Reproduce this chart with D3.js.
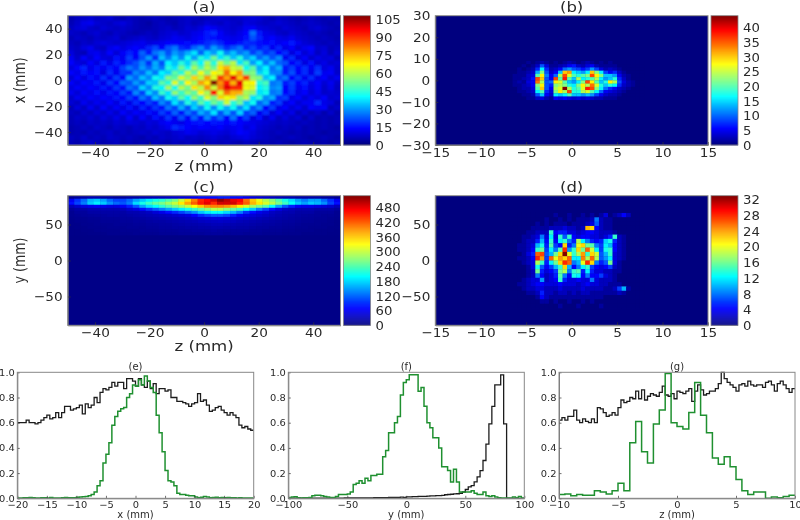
<!DOCTYPE html>
<html><head><meta charset="utf-8">
<script src="https://cdn.jsdelivr.net/npm/d3@7"></script>
<style>html,body{margin:0;padding:0;background:#fff}svg{display:block;filter:blur(.35px)}text{font-family:"DejaVu Sans",sans-serif;fill:#2a2a2a}</style>
</head><body><svg id="c" width="800" height="520"></svg>
<script>
// Panel (a): rows run from x=+50 (top) to x=-50 (bottom), columns z=-50..50
const gridA=[
[5,7,8,9,7,8,9,6,5,7,6,5,6,7,6,5,6,7,8,7,6,7,8,9,8,7,8,9,10,9,7,6,8,7,6,5,6,7,6,5,6,5],
[6,8,11,12,9,8,7,9,10,8,6,5,4,6,7,6,5,7,8,6,7,9,8,7,9,8,7,10,9,8,7,8,9,8,7,6,7,8,7,6,5,6],
[7,9,10,8,7,9,8,7,8,7,6,5,5,6,7,8,6,7,9,8,10,14,12,10,9,8,9,12,13,10,9,8,7,9,8,7,6,8,9,7,6,5],
[8,7,6,8,9,7,6,8,7,6,5,6,7,6,8,9,10,8,9,11,12,16,18,13,10,9,11,14,25,16,11,10,8,7,9,8,7,6,7,6,5,6],
[6,8,7,6,8,7,8,9,6,7,8,9,8,7,9,10,12,11,10,12,14,16,15,13,12,11,12,15,22,17,12,14,11,10,12,9,8,7,6,7,6,5],
[7,6,8,7,9,10,9,8,9,10,11,12,10,11,12,14,13,14,15,14,15,18,20,17,14,13,15,18,17,15,14,15,12,14,16,12,9,8,7,6,7,6],
[8,7,10,12,8,7,11,13,10,12,14,12,17,21,14,22,26,18,16,24,28,20,30,24,18,22,26,17,21,16,19,12,17,11,14,9,12,14,8,9,6,7],
[10,7,6,11,12,9,14,9,13,17,14,24,16,26,30,22,30,26,32,38,24,36,30,42,28,34,26,30,20,26,18,22,14,18,10,15,9,12,7,10,6,9],
[12,8,13,9,14,10,9,15,12,20,13,22,30,18,34,26,36,28,42,30,44,38,52,38,46,34,44,30,36,24,30,22,28,12,18,10,13,8,11,9,10,6],
[14,10,9,14,10,16,11,17,13,18,22,28,18,32,22,40,34,44,36,50,40,58,44,62,52,60,38,48,30,40,26,34,24,22,13,17,10,15,9,11,8,9],
[10,14,17,11,15,12,16,13,20,26,22,30,24,32,26,44,38,52,42,58,48,60,52,70,76,62,60,42,50,32,40,26,32,16,20,14,18,12,18,10,12,8],
[14,11,16,13,15,10,18,12,19,18,28,24,34,26,40,36,50,44,60,50,66,54,68,64,84,68,78,52,54,36,42,28,28,16,22,13,18,11,20,12,13,8],
[9,14,10,15,12,18,12,20,14,30,24,34,28,42,38,54,50,64,56,72,60,78,64,90,78,98,74,90,56,54,34,40,22,26,14,19,12,18,11,14,9,12],
[13,10,14,12,16,11,19,14,24,22,30,24,36,34,50,44,64,48,68,58,78,70,108,80,94,76,98,66,68,44,48,26,28,16,20,14,17,11,14,9,12,8],
[10,13,11,14,12,16,12,19,15,26,22,36,28,44,40,58,42,60,52,70,60,80,62,82,98,92,92,66,64,40,44,28,30,14,19,12,15,10,13,8,11,7],
[12,9,13,11,15,11,16,13,20,15,28,20,36,28,46,38,56,46,56,50,68,58,96,64,84,76,76,58,56,38,42,26,28,14,18,11,14,9,12,8,9,8],
[8,12,10,13,11,14,12,16,13,20,15,26,20,34,26,42,36,50,40,56,46,64,54,72,66,70,54,60,38,44,28,32,18,20,11,14,9,12,10,13,8,9],
[9,7,12,9,12,10,14,10,16,11,18,14,20,16,28,22,38,28,44,34,50,42,52,46,62,44,52,34,42,24,30,16,20,11,14,9,12,12,18,11,10,6],
[6,10,7,12,8,13,9,13,10,15,10,17,12,19,15,26,20,32,22,36,28,42,28,42,32,42,28,38,22,28,14,20,11,14,9,12,8,14,12,13,6,8],
[7,6,9,7,10,8,11,8,13,10,13,11,15,12,20,15,24,15,26,20,32,26,38,22,32,22,36,20,24,12,18,9,13,8,11,6,9,6,8,5,8,5],
[6,8,7,9,7,10,8,11,8,13,8,14,9,15,11,19,12,22,13,24,15,28,18,24,14,26,14,20,10,15,8,12,7,10,7,9,5,8,5,6,5,6],
[6,7,6,8,7,8,7,9,8,10,9,8,10,9,12,14,12,11,14,15,16,14,16,15,14,16,14,12,11,10,9,8,7,8,7,6,7,6,5,6,5,6],
[5,6,7,6,8,7,6,8,7,6,8,7,9,8,10,12,18,16,14,12,14,13,12,14,11,12,13,10,12,9,8,7,6,7,6,7,5,6,5,6,5,4],
[5,6,5,7,6,7,8,6,7,6,7,8,7,9,8,7,9,10,12,11,9,10,11,10,9,11,14,12,10,8,7,6,7,6,5,6,5,6,5,4,5,5],
[7,6,8,6,7,6,8,7,6,7,6,5,7,6,8,7,8,9,7,8,7,8,9,8,7,9,10,11,9,8,7,6,5,6,7,6,5,4,5,6,5,4],
[6,5,7,8,6,5,6,7,5,6,5,6,5,7,6,5,7,6,7,6,5,6,7,6,7,6,5,7,6,5,6,5,6,5,4,5,6,5,4,5,4,5]];
// Panel (b): central region only, y=+9 (top) to y=-9, z=-7..8
const gridB=[
[0,0,0,0,1,0,1,2,1,0,1,0,1,2,1,0,1,2,1,0,1,0,1,0,0,0,0,0,0,0],
[0,0,0,1,0,1,3,9,4,1,1,2,3,5,6,3,2,4,5,2,1,1,1,1,0,0,0,0,0,0],
[0,0,1,0,1,2,7,16,7,2,3,5,10,12,9,8,6,8,12,8,4,2,3,2,1,0,0,0,0,0],
[0,0,1,1,2,3,13,22,9,3,5,14,30,32,16,14,12,16,30,22,16,8,5,7,3,1,0,0,0,0],
[0,1,1,1,3,4,20,28,11,5,10,24,36,26,20,18,20,22,36,28,22,14,14,12,5,2,1,0,0,0],
[0,1,1,2,3,6,36,30,9,5,36,20,38,20,14,24,16,18,20,24,16,12,14,18,7,3,1,0,0,0],
[0,1,2,1,4,5,34,24,9,10,28,26,20,14,12,16,22,36,28,20,14,18,28,24,9,4,2,1,0,0],
[0,1,1,2,3,5,22,28,9,7,22,24,22,18,16,22,28,24,34,26,18,14,18,16,7,3,2,1,0,0],
[0,0,1,2,2,4,20,30,9,5,24,26,44,24,18,20,26,38,36,22,16,10,7,5,3,2,1,0,0,0],
[0,0,1,1,2,3,16,20,7,4,22,28,24,36,18,18,24,26,20,16,10,5,4,3,2,1,0,0,0,0],
[0,0,0,1,1,2,9,14,5,3,16,14,16,20,14,14,12,14,12,8,5,3,2,2,1,0,0,0,0,0],
[0,0,0,0,1,1,3,4,2,1,5,4,5,4,3,4,3,4,3,2,2,1,1,1,0,0,0,0,0,0]];
// Panel (c): rows from y=+90 downward, columns z=-50..50
const gridC=[
[10,15,20,25,25,20,20,15,15,20,20,25,25,30,30,35,40,45,50,60,70,70,75,80,80,75,70,60,50,45,40,35,30,25,25,20,20,20,20,15,15,10],
[60,90,120,160,170,150,120,100,100,120,150,170,190,210,220,240,260,300,350,400,450,470,490,520,500,480,470,410,360,320,290,270,240,210,180,150,130,150,150,120,90,60],
[70,100,130,170,190,170,140,120,110,130,180,210,230,250,260,280,300,340,380,420,460,480,450,490,490,490,460,420,370,340,310,290,260,230,200,170,150,170,160,140,100,70],
[30,40,50,55,60,55,50,50,60,80,110,150,180,200,220,240,260,280,300,330,360,390,400,400,390,370,340,310,280,260,240,200,150,110,80,60,55,55,50,45,40,30],
[15,20,20,25,25,25,25,25,30,40,50,70,90,110,130,150,170,190,210,230,250,270,290,290,270,250,230,200,170,130,100,70,50,35,30,25,25,25,20,20,20,15],
[10,15,15,20,20,20,20,20,20,25,25,30,35,45,55,70,85,100,120,140,170,190,200,200,180,160,130,90,70,55,45,35,30,25,25,20,20,20,15,15,15,10],
[10,12,14,15,16,16,18,18,18,20,22,25,28,30,32,35,40,45,50,65,85,100,110,110,100,80,60,50,45,40,35,30,25,22,20,18,16,15,14,12,12,10],
[8,10,10,12,12,14,14,14,16,16,18,20,22,24,26,28,30,32,36,40,44,48,50,50,46,44,40,36,34,30,26,24,22,20,18,16,14,14,12,12,10,8],
[6,8,8,10,10,12,12,12,14,14,16,16,18,20,20,22,24,26,28,30,34,36,36,38,36,34,30,28,26,24,22,20,18,16,16,14,12,12,10,10,8,6],
[6,6,8,8,10,10,10,12,12,12,14,14,16,16,18,18,20,22,24,24,26,28,30,30,28,26,24,24,22,20,18,18,16,14,14,12,10,10,10,8,8,6],
[5,6,6,8,8,8,10,10,10,12,12,12,14,14,16,16,18,18,20,20,22,22,24,24,22,22,20,20,18,16,16,14,14,12,12,10,10,8,8,8,6,6],
[5,5,6,6,8,8,8,8,10,10,10,12,12,12,14,14,14,16,16,18,18,18,20,18,18,16,16,16,14,14,12,12,12,10,10,8,8,8,6,6,6,5],
[5,5,5,6,6,6,8,8,8,8,10,10,10,10,12,12,12,14,14,14,14,16,16,16,14,14,14,12,12,12,10,10,10,8,8,8,6,6,6,6,5,5]];
// Panel (d): central region only, y=+66 (top) to y=-66, z=-7..8
const gridD=[
[0,0,0,0,0,0,0,0,0,0,1,0,0,1,0,0,1,0,1,0,1,3,0,1,2,4,2,0,0,0],
[0,0,0,0,0,0,0,0,1,0,0,1,0,1,0,1,1,1,2,8,2,1,1,0,0,0,0,0,0,0],
[0,0,0,0,0,0,1,0,1,0,1,1,1,0,1,1,1,2,3,7,2,1,1,0,0,0,0,0,0,0],
[0,0,0,0,0,1,1,1,1,2,2,2,3,2,2,1,2,23,22,4,2,1,1,0,0,0,0,0,0,0],
[0,0,0,0,1,1,2,2,2,14,4,5,5,3,3,2,3,4,4,3,2,2,2,1,0,0,0,0,0,0],
[0,0,0,1,1,2,3,8,3,12,3,14,7,14,4,3,4,4,3,3,2,3,5,14,2,1,0,0,0,0],
[0,0,0,1,2,2,5,10,4,14,4,12,14,8,5,18,12,8,5,4,5,11,13,5,2,1,0,0,0,0],
[0,0,1,1,2,3,10,13,5,15,6,4,22,5,8,20,22,16,15,8,6,12,10,4,2,1,0,0,0,0],
[0,0,1,1,2,4,14,16,6,12,8,15,28,9,14,22,16,26,19,12,6,13,14,4,2,1,0,0,0,0],
[0,0,0,1,3,5,26,27,7,10,16,22,33,20,14,18,24,14,22,19,7,10,14,3,2,1,0,0,0,0],
[0,0,1,1,2,4,28,24,6,26,20,24,22,26,12,12,25,18,26,18,7,9,12,3,2,1,0,0,0,0],
[0,0,0,1,2,3,18,14,5,12,16,22,28,26,8,10,20,28,22,8,5,7,16,3,1,0,0,0,0,0],
[0,0,0,0,1,3,13,7,4,6,10,14,22,10,4,8,12,14,6,4,3,4,6,2,1,0,0,0,0,0],
[0,0,0,0,1,2,16,5,3,4,6,16,18,8,14,15,5,12,5,3,3,2,2,1,1,0,0,0,0,0],
[0,0,0,0,1,2,8,4,2,3,5,15,8,4,13,12,4,8,4,4,6,3,2,1,0,0,0,0,0,0],
[0,0,0,1,2,3,3,9,2,3,4,14,5,3,3,4,3,3,8,3,2,2,2,1,0,0,0,0,0,0],
[0,0,1,1,2,3,4,4,3,3,3,4,3,3,3,2,3,4,3,3,2,2,1,1,1,0,0,0,0,0],
[0,0,0,1,2,2,3,3,2,2,2,3,2,2,2,2,3,2,2,2,2,1,1,2,6,10,1,0,0,0],
[0,0,0,0,1,1,2,5,2,2,1,2,2,1,2,1,2,2,1,1,1,1,1,1,2,1,0,0,0,0],
[0,0,0,0,0,0,1,4,2,1,1,1,1,1,1,1,1,1,1,1,1,0,0,0,0,0,0,0,0,0],
[0,0,0,0,0,0,0,1,1,0,1,0,0,1,0,0,1,0,1,0,0,0,0,0,0,0,0,0,0,0],
[0,0,0,0,0,0,0,0,0,0,0,1,0,0,0,1,0,0,0,0,1,0,0,0,0,0,0,0,0,0]];
// Normalised histograms (bin values, left to right)
const eBlack=[.60,.60,.60,.62,.60,.60,.59,.60,.62,.64,.66,.63,.64,.68,.64,.68,.73,.73,.70,.71,.72,.74,.67,.75,.72,.74,.80,.76,.84,.87,.86,.88,.92,.89,.92,.92,.87,.95,.95,.93,.89,.95,.90,.88,.93,.87,.91,.83,.87,.87,.85,.86,.80,.80,.77,.77,.76,.75,.73,.75,.76,.83,.77,.78,.74,.69,.70,.72,.73,.70,.68,.66,.68,.66,.64,.58,.56,.57,.55,.54];
const eGreen=[.002,.003,.004,.005,.006,.004,.003,.002,.005,.004,.003,.006,.003,.002,.003,.004,.006,.005,.004,.005,.008,.01,.012,.015,.02,.03,.05,.10,.14,.28,.35,.44,.58,.65,.69,.71,.72,.80,.83,.90,.89,.94,.90,.97,.93,.88,.84,.66,.52,.37,.22,.14,.13,.10,.04,.03,.03,.025,.02,.02,.01,.005,.008,.015,.01,.005,.006,.008,.004,.007,.005,.006,.004,.005,.003,.004,.003,.002,.003,.002];
const fBlack=[.001,.001,.001,.001,.001,.001,.001,.001,.002,.002,.002,.002,.002,.002,.002,.002,.002,.002,.002,.003,.003,.003,.003,.003,.003,.004,.004,.004,.004,.005,.005,.005,.006,.006,.007,.008,.008,.008,.01,.008,.012,.012,.014,.014,.015,.016,.016,.018,.02,.02,.022,.022,.024,.028,.03,.032,.035,.036,.04,.05,.07,.09,.10,.13,.17,.22,.30,.43,.59,.73,.90,.90,.98,.59,0,0,0,0,0,0];
const fGreen=[.003,.01,.012,.005,.003,.004,.005,.006,.02,.025,.025,.02,.015,.01,.006,.006,.015,.03,.03,.03,.035,.05,.11,.12,.14,.12,.16,.14,.18,.18,.19,.19,.33,.38,.52,.52,.60,.65,.82,.92,.94,.98,.98,.98,.85,.88,.73,.60,.56,.48,.48,.40,.25,.25,.22,.13,.23,.13,.05,.05,.05,.05,.06,.04,.03,.03,.05,.02,.015,.02,.01,.005,.003,.003,.002,.002,.01,.005,.015,.002];
const gBlack=[.62,.64,.62,.65,.65,.70,.62,.60,.63,.61,.60,.63,.60,.72,.71,.68,.65,.66,.68,.66,.72,.78,.76,.77,.80,.79,.85,.79,.86,.78,.81,.83,.82,.81,.84,.89,.82,.81,.83,.79,.85,.84,.83,.85,.87,.77,.85,.90,.86,.82,.83,.85,.85,.87,.91,1.0,.95,.92,.90,.88,.85,.90,.91,.89,.93,.90,.89,.90,.90,.88,.92,.93,.90,.85,.91,.93,.90,.87,.84,.87];
const gGreen=[.03,.035,.02,.03,.025,.025,.06,.05,.035,.06,.12,.06,.44,.61,.37,.28,.59,.70,.99,.60,.57,.55,.68,.92,.66,.52,.32,.27,.33,.25,.15,.06,.03,.05,.05,.0,.01,.005,.015,.025];
// Tick labels
const ticksZA=[-40,-20,0,20,40], ticksX=[-40,-20,0,20,40], ticksY=[-50,0,50];
const ticksZB=[-15,-10,-5,0,5,10,15], ticksB=[-30,-20,-10,0,10,20,30];
const ticksCbA=d3.range(0,106,15), ticksCbB=d3.range(0,41,5), ticksCbC=d3.range(0,481,60), ticksCbD=d3.range(0,33,4);
const ticksFrac=[0,.2,.4,.6,.8,1];

const svg=d3.select("#c");
const defs=svg.append("defs");
const blur=(id,s)=>defs.append("filter").attr("id",id).attr("x","-5%").attr("y","-5%").attr("width","110%").attr("height","110%")
  .append("feGaussianBlur").attr("stdDeviation",s);
blur("bA",1); blur("bB",.75); blur("bC",.7); blur("bD",.7);
const jet=d3.scaleLinear().domain([0,.11,.125,.375,.625,.89,1])
  .range(["#00007f","#0000f0","#0000ff","#00ffff","#ffff00","#ff0000","#7f0000"]).clamp(true);

function stretch(sel,f){sel.each(function(){const n=this.getComputedTextLength();this.setAttribute("textLength",n*f);this.setAttribute("lengthAdjust","spacingAndGlyphs");});}
let clipN=0;
function label(x,y,s,size,f,rot){const t=svg.append("text").attr("text-anchor","middle").attr("font-size",size).text(s);
  if(rot)t.attr("transform",`translate(${x},${y}) rotate(-90)`);else t.attr("x",x).attr("y",y);stretch(t,f);}
function styleAxis(g,size,f,col){g.selectAll("path.domain").attr("stroke",col||"#777").attr("stroke-width",1);
  g.selectAll("line").attr("stroke","#333").attr("stroke-width",.7);
  const t=g.selectAll("text").attr("font-size",size).attr("fill","#2a2a2a").attr("font-family",'"DejaVu Sans",sans-serif');stretch(t,f);}

function heat(o){
  const xs=d3.scaleLinear().domain(o.xd).range([o.x0,o.x1]), ys=d3.scaleLinear().domain(o.yd).range([o.y1,o.y0]);
  const id="clip"+(clipN++);
  defs.append("clipPath").attr("id",id).append("rect").attr("x",o.x0).attr("y",o.y0).attr("width",o.x1-o.x0).attr("height",o.y1-o.y0);
  const norm=v=>jet(v/o.vmax);
  const g=svg.append("g").attr("clip-path",`url(#${id})`);
  g.append("rect").attr("x",o.x0).attr("y",o.y0).attr("width",o.x1-o.x0).attr("height",o.y1-o.y0).attr("fill",norm(o.bg));
  const cells=o.grid.flatMap((row,r)=>row.map((v,c)=>({v,c,r})));
  g.append("g").attr("filter",`url(#${o.f})`).selectAll("rect").data(cells).join("rect")
    .attr("x",d=>xs(o.gx+d.c*o.gdx)).attr("width",d=>xs(o.gx+(d.c+1)*o.gdx)-xs(o.gx+d.c*o.gdx)+.3)
    .attr("y",d=>ys(o.gy-d.r*o.gdy)).attr("height",d=>ys(o.gy-(d.r+1)*o.gdy)-ys(o.gy-d.r*o.gdy)+.3)
    .attr("fill",d=>norm(d.v));
  const ax=svg.append("g").attr("transform",`translate(0,${o.y1})`).call(d3.axisBottom(xs).tickValues(o.tx).tickSizeInner(-3).tickSizeOuter(0).tickPadding(2.5));
  const ay=svg.append("g").attr("transform",`translate(${o.x0},0)`).call(d3.axisLeft(ys).tickValues(o.ty).tickSizeInner(-3).tickSizeOuter(0).tickPadding(5));
  styleAxis(ax,13,1.05);styleAxis(ay,13,1.05);
  svg.append("rect").attr("x",o.x0).attr("y",o.y0).attr("width",o.x1-o.x0).attr("height",o.y1-o.y0).attr("fill","none").attr("stroke","#888").attr("stroke-width",1);
  // colour bar
  const cb=d3.scaleLinear().domain([0,o.vmax]).range([o.y1,o.y0]);
  svg.append("g").selectAll("rect").data(d3.range(0,1,1/128)).join("rect")
    .attr("x",o.cx).attr("width",o.cw).attr("y",d=>cb((d+1/128)*o.vmax)).attr("height",(o.y1-o.y0)/128+.4).attr("fill",d=>jet(d));
  const ac=svg.append("g").attr("transform",`translate(${o.cx+o.cw},0)`).call(d3.axisRight(cb).tickValues(o.tc).tickSize(0).tickPadding(5));
  ac.select("path.domain").remove();styleAxis(ac,13,1.02);
  svg.append("rect").attr("x",o.cx).attr("y",o.y0).attr("width",o.cw).attr("height",o.y1-o.y0).attr("fill","none").attr("stroke","#888").attr("stroke-width",.8);
  label((o.x0+o.x1)/2,o.y0-3.5,o.title,13.5,1.22);
  if(o.xl)label((o.x0+o.x1)/2,o.xly,o.xl,13.5,1.23);
  if(o.yl)label(25,(o.y0+o.y1)/2,o.yl,15,.84,true);
}
const rowTop={y0:15.7,y1:145},rowMid={y0:195.7,y1:325.3},colL={x0:67.7,x1:340.5,cx:343.5,cw:27},colR={x0:435.3,x1:708,cx:711,cw:27};
heat({...colL,...rowTop,xd:[-50,50],yd:[-50,50],grid:gridA,gx:-50,gdx:100/42,gy:50,gdy:100/26,vmax:108,bg:6,f:"bA",tx:ticksZA,ty:ticksX,tc:ticksCbA,title:"(a)",xl:"z (mm)",xly:171,yl:"x (mm)"});
heat({...colR,...rowTop,xd:[-15,15],yd:[-30,30],grid:gridB,gx:-7,gdx:.5,gy:9,gdy:1.5,vmax:44,bg:0,f:"bB",tx:ticksZB,ty:ticksB,tc:ticksCbB,title:"(b)"});
heat({...colL,...rowMid,xd:[-50,50],yd:[-90,90],grid:gridC,gx:-50,gdx:100/42,gy:90,gdy:4.2,vmax:528,bg:4,f:"bC",tx:ticksZA,ty:ticksY,tc:ticksCbC,title:"(c)",xl:"z (mm)",xly:351,yl:"y (mm)"});
heat({...colR,...rowMid,xd:[-15,15],yd:[-90,90],grid:gridD,gx:-7,gdx:.5,gy:66,gdy:6,vmax:33,bg:0,f:"bD",tx:ticksZB,ty:ticksY,tc:ticksCbD,title:"(d)"});

function hist(o){
  const xs=d3.scaleLinear().domain(o.xd).range([o.x0,o.x1]), ys=d3.scaleLinear().domain([0,1]).range([498.3,372.3]);
  const id="clip"+(clipN++);
  defs.append("clipPath").attr("id",id).append("rect").attr("x",o.x0).attr("y",371).attr("width",o.x1-o.x0).attr("height",128);
  const step=vals=>{const w=(o.xd[1]-o.xd[0])/vals.length;const pts=vals.map((v,i)=>[o.xd[0]+i*w,v]);pts.push([o.xd[1],vals[vals.length-1]]);return pts;};
  const line=d3.line().x(d=>xs(d[0])).y(d=>ys(d[1])).curve(d3.curveStepAfter);
  const g=svg.append("g").attr("clip-path",`url(#${id})`);
  g.append("path").attr("d",line(step(o.black))).attr("fill","none").attr("stroke","#1c1c1c").attr("stroke-width",1.3);
  g.append("path").attr("d",line(step(o.green))).attr("fill","none").attr("stroke","#1f9030").attr("stroke-width",1.5);
  const ax=svg.append("g").attr("transform","translate(0,498.3)").call(d3.axisBottom(xs).tickValues(o.tx).tickSizeInner(-2.5).tickSizeOuter(0).tickPadding(2.5));
  const ay=svg.append("g").attr("transform",`translate(${o.x0},0)`).call(d3.axisLeft(ys).tickValues(ticksFrac).tickFormat(d3.format(".1f")).tickSizeInner(-2.5).tickSizeOuter(0).tickPadding(2.5));
  styleAxis(ax,9.5,1.04);styleAxis(ay,9.5,1.04);
  svg.append("rect").attr("x",o.x0).attr("y",372.3).attr("width",o.x1-o.x0).attr("height",126).attr("fill","none").attr("stroke","#888").attr("stroke-width",1);
  label((o.x0+o.x1)/2,370,o.title,10,1);
  label((o.x0+o.x1)/2,518,o.xl,10,1);
}
hist({x0:17.3,x1:253.7,xd:[-20,20],black:eBlack,green:eGreen,tx:d3.range(-20,21,5),title:"(e)",xl:"x (mm)"});
hist({x0:288.3,x1:524.3,xd:[-100,100],black:fBlack,green:fGreen,tx:d3.range(-100,101,50),title:"(f)",xl:"y (mm)"});
hist({x0:559,x1:795,xd:[-10,10],black:gBlack,green:gGreen,tx:d3.range(-10,11,5),title:"(g)",xl:"z (mm)"});
</script></body></html>
